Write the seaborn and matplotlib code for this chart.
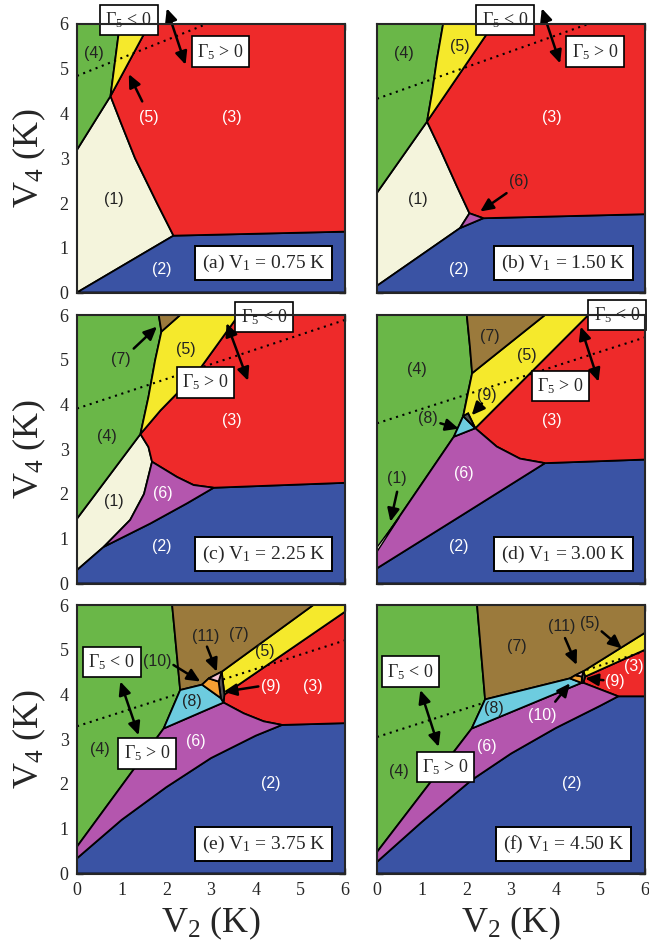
import matplotlib
matplotlib.use("Agg")
import matplotlib.pyplot as plt
import seaborn as sns
import pandas as pd

# ---------------- data: phase-region polygons (V2, V4) ----------------
A_REGIONS = {
    1: [(0, 0), (0, 3.19), (0.75, 4.39), (0.98, 3.8), (1.3, 3.0), (1.79, 2.0), (2.16, 1.27)],
    2: [(0, 0), (2.16, 1.27), (6, 1.36), (6, 0)],
    3: [(1.62, 6), (6, 6), (6, 1.36), (2.16, 1.27), (1.79, 2.0), (1.3, 3.0), (0.98, 3.8), (0.75, 4.39)],
    4: [(0, 6), (0.96, 6), (0.75, 4.39), (0, 3.19)],
    5: [(0.96, 6), (1.62, 6), (0.75, 4.39)],
}
B_REGIONS = {
    1: [(0, 0.15), (0, 2.23), (1.12, 3.82), (1.42, 3.19), (1.79, 2.37), (2.07, 1.77), (1.86, 1.44)],
    2: [(0, 0), (0, 0.15), (1.86, 1.44), (2.38, 1.66), (6, 1.75), (6, 0)],
    3: [(2.61, 6), (6, 6), (6, 1.75), (2.38, 1.66), (2.07, 1.77), (1.79, 2.37), (1.42, 3.19), (1.12, 3.82)],
    4: [(0, 6), (1.48, 6), (1.34, 5.2), (1.23, 4.45), (1.12, 3.82), (0, 2.23)],
    5: [(1.48, 6), (2.61, 6), (1.12, 3.82), (1.23, 4.45), (1.34, 5.2)],
    6: [(2.07, 1.77), (2.38, 1.66), (1.86, 1.44)],
}
C_REGIONS = {
    1: [(0, 0.3), (0, 1.45), (1.42, 3.34), (1.6, 3.05), (1.68, 2.72), (1.5, 2.0), (1.19, 1.42), (0.6, 0.82)],
    2: [(0, 0), (0, 0.3), (0.6, 0.82), (1.64, 1.34), (2.46, 1.79), (3.06, 2.14), (6, 2.25), (6, 0)],
    3: [(3.62, 6), (6, 6), (6, 2.25), (3.06, 2.14), (2.61, 2.2), (2.24, 2.38), (1.68, 2.72), (1.6, 3.05),
        (1.42, 3.34), (1.87, 3.87), (2.31, 4.32), (2.76, 4.81)],
    4: [(0, 6), (1.83, 6), (1.89, 5.63), (1.75, 4.99), (1.6, 4.17), (1.42, 3.34), (0, 1.45)],
    5: [(1.89, 5.63), (2.31, 6), (3.62, 6), (2.76, 4.81), (2.31, 4.32), (1.87, 3.87), (1.42, 3.34),
        (1.6, 4.17), (1.75, 4.99)],
    6: [(0.6, 0.82), (1.19, 1.42), (1.5, 2.0), (1.68, 2.72), (2.24, 2.38), (2.61, 2.2), (3.06, 2.14),
        (2.46, 1.79), (1.64, 1.34)],
    7: [(1.83, 6), (2.31, 6), (1.89, 5.63)],
}
D_REGIONS = {
    2: [(0, 0), (0, 0.34), (1.94, 1.55), (3.76, 2.69), (6, 2.77), (6, 0)],
    3: [(2.2, 3.47), (4.73, 6), (6, 6), (6, 2.77), (3.76, 2.69), (3.2, 2.79), (2.68, 3.06)],
    4: [(0, 6), (2.01, 6), (2.08, 5.3), (2.13, 4.70), (2.02, 4.2), (1.93, 3.74), (1.72, 3.28), (0, 0.76)],
    5: [(2.13, 4.70), (3.76, 6), (4.73, 6), (2.2, 3.47), (2.04, 3.80), (1.93, 3.74)],
    6: [(0, 0.34), (0, 0.76), (1.72, 3.28), (2.2, 3.47), (2.68, 3.06), (3.2, 2.79), (3.76, 2.69), (1.94, 1.55)],
    7: [(2.01, 6), (3.76, 6), (2.13, 4.70), (2.08, 5.3)],
    8: [(1.72, 3.28), (1.93, 3.74), (2.2, 3.47)],
    9: [(1.93, 3.74), (2.04, 3.80), (2.2, 3.47)],
    1: [(0, 0.71), (0.5, 1.48), (0, 0.81)],
}
E_REGIONS = {
    2: [(0, 0), (0, 0.34), (1.0, 1.2), (2.0, 1.93), (3.0, 2.58), (4.0, 3.08), (4.59, 3.32), (6, 3.36), (6, 0)],
    3: [(3.3, 4.0), (6, 5.85), (6, 3.36), (4.59, 3.32), (4.18, 3.40), (3.73, 3.58), (3.28, 3.82)],
    4: [(0, 6), (2.13, 6), (2.31, 4.1), (1.94, 3.24), (0, 0.6)],
    5: [(3.24, 4.51), (5.29, 6), (6, 6), (6, 5.85), (3.3, 4.0)],
    6: [(0, 0.34), (0, 0.6), (1.94, 3.24), (3.28, 3.82), (3.73, 3.58), (4.18, 3.40), (4.59, 3.32),
        (4.0, 3.08), (3.0, 2.58), (2.0, 1.93), (1.0, 1.2)],
    7: [(2.13, 6), (5.29, 6), (3.24, 4.51), (2.95, 4.36), (2.8, 4.22), (2.31, 4.1)],
    8: [(2.31, 4.1), (2.8, 4.22), (3.22, 3.92), (3.28, 3.82), (1.94, 3.24)],
    9: [(3.17, 4.29), (3.24, 4.51), (3.3, 4.0), (3.28, 3.82), (3.22, 3.92)],
    10: [(2.8, 4.22), (2.95, 4.36), (3.17, 4.29), (3.22, 3.92)],
    11: [(2.95, 4.36), (3.24, 4.51), (3.17, 4.29)],
}
F_REGIONS = {
    2: [(0, 0), (0, 0.26), (1.0, 1.15), (2.12, 2.09), (3.0, 2.68), (4.0, 3.25), (5.0, 3.75), (5.4, 3.96),
        (6, 3.96), (6, 0)],
    3: [(4.66, 4.40), (6, 5.0), (6, 3.96), (5.4, 3.96), (4.62, 4.26)],
    4: [(0, 6), (2.24, 6), (2.42, 3.89), (2.12, 3.24), (0, 0.48)],
    5: [(4.62, 4.52), (6, 5.38), (6, 5.0), (4.66, 4.40)],
    6: [(0, 0.26), (0, 0.48), (2.12, 3.24), (4.58, 4.26), (4.62, 4.26), (5.4, 3.96), (5.0, 3.75),
        (4.0, 3.25), (3.0, 2.68), (2.12, 2.09), (1.0, 1.15)],
    7: [(2.24, 6), (6, 6), (6, 5.38), (4.62, 4.52), (4.44, 4.43), (4.32, 4.36), (2.42, 3.89)],
    8: [(2.42, 3.89), (4.32, 4.36), (4.58, 4.26), (2.12, 3.24)],
    9: [(4.59, 4.40), (4.62, 4.52), (4.66, 4.40), (4.62, 4.26), (4.58, 4.26)],
    10: [(4.32, 4.36), (4.44, 4.43), (4.59, 4.40), (4.58, 4.26)],
    11: [(4.44, 4.43), (4.62, 4.52), (4.59, 4.40)],
}

# Gamma_5 = 0 dotted lines (V2 endpoints, V4 endpoints)
A_GAMMA_X, A_GAMMA_Y = [0, 2.9], [4.84, 6.0]
B_GAMMA_X, B_GAMMA_Y = [0, 4.7], [4.33, 5.99]
C_GAMMA_X, C_GAMMA_Y = [0, 6.0], [3.91, 5.89]
D_GAMMA_X, D_GAMMA_Y = [0, 6.0], [3.58, 5.50]
E_GAMMA_X, E_GAMMA_Y = [0, 6.0], [3.29, 5.21]
F_GAMMA_X, F_GAMMA_Y = [0, 6.0], [3.05, 4.97]

# region labels: (text, V2, V4, white?)
A_LABELS = [("(4)", 0.37, 5.35, 0), ("(5)", 1.6, 3.9, 1), ("(3)", 3.47, 3.9, 1), ("(1)", 0.82, 2.07, 0),
            ("(2)", 1.9, 0.52, 1)]
B_LABELS = [("(4)", 0.61, 5.35, 0), ("(5)", 1.86, 5.5, 0), ("(3)", 3.91, 3.9, 1), ("(1)", 0.91, 2.07, 0),
            ("(2)", 1.83, 0.52, 1), ("(6)", 3.17, 2.48, 0)]
C_LABELS = [("(7)", 0.97, 5.01, 0), ("(5)", 2.43, 5.22, 0), ("(4)", 0.66, 3.28, 0), ("(1)", 0.82, 1.83, 0),
            ("(6)", 1.93, 2.01, 1), ("(3)", 3.47, 3.65, 1), ("(2)", 1.9, 0.82, 1)]
D_LABELS = [("(7)", 2.53, 5.51, 0), ("(4)", 0.89, 4.78, 0), ("(5)", 3.35, 5.1, 0), ("(9)", 2.46, 4.21, 0),
            ("(8)", 1.15, 3.69, 0), ("(3)", 3.91, 3.65, 1), ("(6)", 1.94, 2.46, 1), ("(1)", 0.45, 2.35, 0),
            ("(2)", 1.83, 0.82, 1)]
E_LABELS = [("(7)", 3.62, 5.33, 0), ("(11)", 2.87, 5.29, 0), ("(10)", 1.79, 4.73, 0), ("(5)", 4.21, 4.96, 0),
            ("(9)", 4.33, 4.18, 1), ("(3)", 5.29, 4.18, 1), ("(8)", 2.57, 3.84, 0), ("(6)", 2.65, 2.94, 1),
            ("(4)", 0.52, 2.76, 0), ("(2)", 4.33, 2.01, 1)]
F_LABELS = [("(7)", 3.13, 5.07, 0), ("(11)", 4.14, 5.52, 0), ("(5)", 4.77, 5.59, 0), ("(3)", 5.74, 4.62, 1),
            ("(9)", 5.33, 4.29, 1), ("(10)", 3.69, 3.54, 1), ("(8)", 2.61, 3.69, 0), ("(6)", 2.46, 2.83, 1),
            ("(4)", 0.48, 2.27, 0), ("(2)", 4.36, 2.01, 1)]

# pointer arrows: (tail V2, tail V4, head V2, head V4)
A_ARROWS = [(1.46, 4.27, 1.16, 4.88)]
B_ARROWS = [(2.9, 2.22, 2.31, 1.81)]
C_ARROWS = [(1.27, 5.25, 1.79, 5.74)]
D_ARROWS = [(2.35, 4.02, 2.12, 3.76), (1.42, 3.58, 1.83, 3.46), (0.45, 2.05, 0.3, 1.38)]
E_ARROWS = [(2.16, 4.66, 2.76, 4.29), (2.91, 5.07, 3.13, 4.51), (4.06, 4.18, 3.28, 4.06)]
F_ARROWS = [(4.21, 5.26, 4.47, 4.66), (5.03, 5.41, 5.48, 5.03), (5.07, 4.32, 4.66, 4.36),
            (3.99, 3.84, 4.32, 4.25)]

# Gamma5 boxes (neg x, neg y, pos x, pos y) and double arrow (x0, y0, x1, y1)
A_GBOX = (1.16, 6.09, 3.21, 5.38); A_DARROW = (2.01, 6.35, 2.43, 5.09)
B_GBOX = (2.87, 6.09, 4.88, 5.38); B_DARROW = (3.69, 6.35, 4.1, 5.12)
C_GBOX = (4.19, 5.96, 2.88, 4.49); C_DARROW = (3.35, 5.82, 3.83, 4.53)
D_GBOX = (5.37, 6.0, 4.11, 4.41); D_DARROW = (4.56, 5.74, 4.96, 4.51)
E_GBOX = (0.78, 4.73, 1.57, 2.68); E_DARROW = (0.97, 4.29, 1.38, 3.09)
F_GBOX = (0.75, 4.51, 1.53, 2.38); F_DARROW = (0.97, 4.10, 1.38, 2.83)

TAGS = ["(a)", "(b)", "(c)", "(d)", "(e)", "(f)"]
V1_VALUES = ["0.75", "1.50", "2.25", "3.00", "3.75", "4.50"]
TICKS = [0, 1, 2, 3, 4, 5, 6]

COLORS = {1: "#F4F4DC", 2: "#3A53A4", 3: "#EE2A2A", 4: "#6AB748", 5: "#F5E92C", 6: "#B456AE",
          7: "#9B7A3C", 8: "#6DCCDF", 9: "#505050", 10: "#F5A033", 11: "#F2C2D2"}

# ---------------- style ----------------
sns.set_theme(style="ticks")
plt.rcParams['font.family'] = ['Liberation Serif', 'DejaVu Serif']
plt.rcParams['mathtext.fontset'] = 'custom'
plt.rcParams['mathtext.rm'] = 'Liberation Serif'
plt.rcParams['mathtext.it'] = 'Liberation Serif:italic'
plt.rcParams['mathtext.default'] = 'rm'

W, H = 649, 948
fig = plt.figure(figsize=(W / 100, H / 100), dpi=100)

PANELS = [
    (A_REGIONS, A_GAMMA_X, A_GAMMA_Y, A_LABELS, A_ARROWS, A_GBOX, A_DARROW, 77, 24),
    (B_REGIONS, B_GAMMA_X, B_GAMMA_Y, B_LABELS, B_ARROWS, B_GBOX, B_DARROW, 377, 24),
    (C_REGIONS, C_GAMMA_X, C_GAMMA_Y, C_LABELS, C_ARROWS, C_GBOX, C_DARROW, 77, 315),
    (D_REGIONS, D_GAMMA_X, D_GAMMA_Y, D_LABELS, D_ARROWS, D_GBOX, D_DARROW, 377, 315),
    (E_REGIONS, E_GAMMA_X, E_GAMMA_Y, E_LABELS, E_ARROWS, E_GBOX, E_DARROW, 77, 605),
    (F_REGIONS, F_GAMMA_X, F_GAMMA_Y, F_LABELS, F_ARROWS, F_GBOX, F_DARROW, 377, 605),
]

for i, (regions, gx, gy, labels, arrows, gbox, darrow, lpx, tpx) in enumerate(PANELS):
    w_px, h_px = 268, 268.5
    ax = fig.add_axes([lpx / W, (H - tpx - h_px) / H, w_px / W, h_px / H])
    ax.set_xlim(0, 6)
    ax.set_ylim(0, 6)

    # lower regions first, dotted line, then upper regions
    for key in sorted(regions):
        if key > 5:
            continue
        xs, ys = zip(*regions[key])
        ax.fill(xs, ys, facecolor=COLORS[key], edgecolor="black", linewidth=1.3, zorder=1)
    df = pd.DataFrame({"V2": gx, "V4": gy})
    sns.lineplot(data=df, x="V2", y="V4", ax=ax, color="black", linewidth=1.5,
                 linestyle=(0, (1, 2.2)), zorder=2)
    for key in sorted(regions):
        if key <= 5:
            continue
        xs, ys = zip(*regions[key])
        ax.fill(xs, ys, facecolor=COLORS[key], edgecolor="black", linewidth=1.3, zorder=3)
    if i == 3:  # thin sliver of phase (1) in panel d drawn above
        xs, ys = zip(*regions[1])
        ax.fill(xs, ys, facecolor=COLORS[1], edgecolor="black", linewidth=1.0, zorder=3.5)

    for txt, x, y, white in labels:
        ax.text(x, y, txt, ha="center", va="center", fontsize=11.5,
                family=["Liberation Sans", "DejaVu Sans"],
                color="white" if white else "#222222", zorder=6)

    for x0, y0, x1, y1 in arrows:
        ax.annotate("", xy=(x1, y1), xytext=(x0, y0),
                    arrowprops=dict(arrowstyle="-|>,head_length=0.65,head_width=0.3", color="black",
                                    lw=1.8, shrinkA=0, shrinkB=0), zorder=7)

    nx, ny, px, py = gbox
    box = dict(boxstyle="square,pad=0.3", facecolor="white", edgecolor="black", linewidth=1.2)
    ax.text(nx, ny, r"$\Gamma_5$ < 0", ha="center", va="center", fontsize=13, bbox=box,
            zorder=9, clip_on=False)
    ax.text(px, py, r"$\Gamma_5$ > 0", ha="center", va="center", fontsize=13, bbox=box,
            zorder=9, clip_on=False)
    x0, y0, x1, y1 = darrow
    ax.annotate("", xy=(x1, y1), xytext=(x0, y0), annotation_clip=False,
                arrowprops=dict(arrowstyle="<|-|>,head_length=0.65,head_width=0.3", color="black",
                                lw=1.8, shrinkA=0, shrinkB=0), zorder=8)

    ax.text(4.18, 0.66, TAGS[i] + r" V$_1$ = " + V1_VALUES[i] + " K", ha="center", va="center",
            fontsize=14, zorder=9,
            bbox=dict(boxstyle="square,pad=0.35", facecolor="white", edgecolor="black", linewidth=1.4))

    ax.set_xticks(TICKS)
    ax.set_yticks(TICKS)
    ax.tick_params(direction="in", top=True, right=True, length=4, width=1, labelsize=13, pad=6)
    if i % 2 == 1:
        ax.set_yticklabels([])
        ax.set_ylabel("")
    else:
        ax.set_ylabel(r"V$_4$ (K)", fontsize=26, labelpad=8)
    if i < 4:
        ax.set_xticklabels([])
        ax.set_xlabel("")
    else:
        ax.set_xlabel(r"V$_2$ (K)", fontsize=26, labelpad=4)
    for s in ax.spines.values():
        s.set_linewidth(1.5)
        s.set_zorder(10)

fig.savefig("out.png", dpi=100)
